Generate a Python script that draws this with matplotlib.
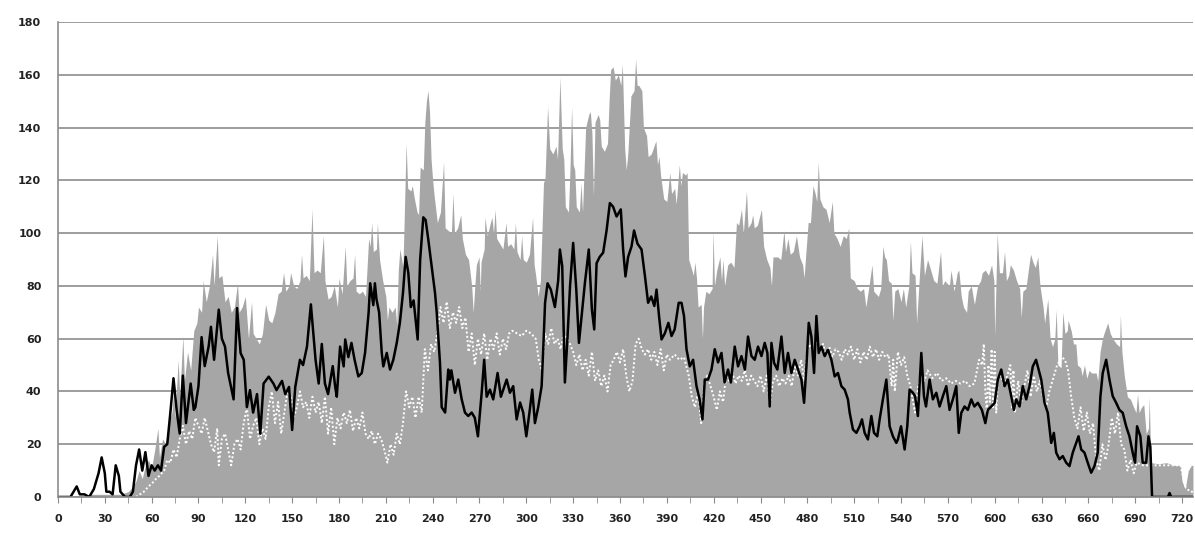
import numpy as np
import matplotlib
matplotlib.use("Agg")
import matplotlib.pyplot as plt

# ---- data (minute, value) ----
gray_t = [0, 10, 20, 30, 40, 45, 48, 50, 52, 54, 56, 58, 60, 62, 64, 65, 67, 69, 71, 73,
          74, 75, 77, 78, 80, 81, 83, 85, 87, 89, 90, 92, 93, 95, 97, 99, 100, 102, 103, 105,
          107, 109, 111, 113, 115, 116, 118, 120, 122, 124, 125, 127, 129, 131, 133, 135, 137, 139, 141, 143,
          144.5, 146, 148, 149, 151, 153, 155, 156, 157, 159, 161, 162.7, 164, 166, 168, 170, 171, 173, 175, 177,
          179, 180, 182, 184, 185, 187, 189, 190, 191, 193, 195, 197, 199, 200, 201, 202, 204, 204.6, 206, 208,
          210, 211, 212, 214, 216, 217, 218, 219, 221, 223, 224, 226, 227, 228, 230, 231, 232, 234, 235, 236,
          237, 238, 239, 240, 241, 243, 245, 247, 248, 250, 252, 253, 254, 256, 258, 259, 261, 263, 265, 266,
          267, 268, 269.7, 270.5, 271, 273, 273.5, 275, 277, 278, 279, 280, 281, 283, 285, 287, 288, 290, 292, 293,
          294, 296, 297, 298, 300, 302, 304, 305, 306, 307.6, 309, 311, 312, 313.6, 315, 317, 319, 320, 321.5, 323,
          324, 325, 327, 328, 329, 330, 331, 332, 334, 335, 336, 338, 340, 341, 342, 343, 344, 346, 347, 348,
          350, 352, 353, 354, 355.6, 357, 359, 360.5, 361.5, 363, 364, 365, 367, 369, 370, 371, 372, 374, 375, 377,
          378, 380, 383, 384, 385, 386, 388, 390, 391.9, 393, 395, 396, 398, 399, 400, 402, 403, 404, 405, 407,
          408, 409, 410, 412, 412.8, 413.5, 415, 417, 419, 419.6, 420.5, 422, 424, 425, 426, 427, 429, 431, 433, 434.6,
          436, 437.8, 439, 441, 442, 444, 445, 446, 448, 450.6, 452, 454, 456, 457, 458, 461, 463, 465, 466, 467.6,
          469, 471, 473, 475, 477, 477.9, 479, 480.5, 482, 483.6, 485, 486, 487, 488, 490, 492, 494, 496, 497, 499,
          501, 503, 505, 506.5, 507.5, 510, 512, 514, 516, 517.5, 519, 521.4, 522.5, 524, 525.5, 527, 528.4, 529.5, 530.6, 532,
          533.8, 534.8, 536, 538, 540, 541.5, 543, 545, 546, 547, 549, 550, 552, 553.4, 555, 557, 559, 561, 563, 565.3,
          566.5, 568, 571, 572, 574, 576, 577, 578.6, 580, 582, 583, 585, 587, 589, 591, 592, 594, 596, 598, 599.5,
          600, 601.6, 603, 605, 606.3, 607.5, 609, 610, 612, 614, 616, 617, 618, 620, 622, 623, 624.5, 626, 627.6, 629,
          631, 632, 634, 635.5, 637, 638.5, 639.4, 640.5, 642.5, 643.6, 645, 646.5, 647, 649, 650.5, 652, 653, 655, 656, 657.5,
          659, 660.5, 662, 665, 666, 667.5, 669, 670, 672.4, 674, 675.6, 678, 680, 680.5, 681.5, 683, 685, 687, 689, 690.5,
          691.5, 692.5, 694, 695.5, 697, 698.5, 699, 700, 705, 710, 715, 719, 720, 722, 724, 726, 727]
gray_v = [0, 0, 1, 1, 1, 2, 4, 6, 10, 7, 12, 14, 11, 18, 26, 15, 22, 20, 28, 32,
          40, 30, 52, 38, 61, 44, 55, 48, 63, 66, 72, 70, 82, 74, 80, 92, 80, 99, 83, 84,
          74, 76, 70, 72, 81, 70, 72, 76, 60, 74, 62, 60, 58, 62, 73, 67, 66, 70, 77, 78,
          85, 78, 80, 85, 80, 79, 82, 92, 83, 84, 82, 109, 85, 86, 85, 99, 82, 75, 76, 80,
          72, 83, 77, 95, 80, 82, 83, 92, 78, 77, 78, 76, 98, 95, 104, 93, 94, 104, 90, 82,
          76, 67, 72, 70, 72, 65, 86, 94, 87, 134, 117, 116, 118, 114, 108, 107, 125, 124, 142, 150,
          154, 146, 128, 120, 114, 104, 108, 127, 102, 101, 100, 115, 100, 102, 107, 98, 92, 90, 80, 70,
          80, 88, 91, 78, 89, 94, 106, 99, 104, 106, 100, 109, 98, 96, 94, 104, 95, 96, 94, 104,
          93, 90, 99, 90, 89, 92, 106, 88, 84, 76, 82, 119, 121, 148, 132, 130, 133, 128, 159, 132,
          128, 110, 108, 125, 148, 126, 124, 110, 108, 119, 108, 140, 145, 146, 138, 114, 142, 145, 143, 133,
          131, 134, 150, 162, 163, 158, 160, 156, 164, 132, 124, 130, 152, 154, 166, 156, 156, 154, 140, 137,
          129, 130, 135, 126, 129, 122, 113, 112, 123, 115, 117, 111, 126, 118, 123, 122, 123, 90, 88, 84,
          89, 83, 72, 73, 60, 72, 78, 77, 79, 101, 80, 86, 91, 82, 90, 80, 88, 89, 87, 104,
          103, 109, 100, 116, 102, 104, 107, 102, 103, 109, 95, 90, 87, 80, 91, 91, 90, 101, 93, 98,
          92, 93, 99, 91, 88, 83, 92, 104, 104, 118, 115, 112, 127, 113, 110, 109, 104, 112, 100, 98,
          95, 99, 98, 102, 83, 82, 79, 78, 79, 72, 78, 88, 78, 77, 76, 79, 95, 91, 90, 82,
          81, 67, 78, 79, 74, 79, 72, 80, 97, 85, 84, 66, 86, 99, 84, 90, 86, 82, 81, 93,
          80, 82, 80, 86, 78, 85, 86, 76, 72, 70, 78, 80, 73, 80, 82, 85, 86, 84, 88, 82,
          61, 100, 85, 85, 93, 82, 84, 88, 86, 82, 79, 68, 78, 79, 88, 92, 89, 87, 91, 80,
          72, 66, 75, 60, 57, 60, 71, 50, 49, 70, 62, 63, 67, 63, 58, 58, 50, 49, 46, 50,
          45, 48, 47, 47, 44, 55, 60, 62, 66, 62, 60, 58, 57, 69, 55, 46, 38, 37, 34, 32,
          39, 32, 34, 35, 24, 26, 38, 13, 12.6, 13, 12, 12, 6, 3, 10, 12, 12]

black_t = [0, 8, 10, 12, 14, 17, 20, 23, 26, 28, 30, 31, 33, 35, 37, 39, 40, 43, 46, 48,
           50, 52, 54, 56, 58, 60, 62, 64, 66, 68, 70, 72, 74, 76, 78, 80, 82, 85, 87, 88,
           90, 92, 94, 96.5, 98, 100, 103, 105, 107, 109, 112.5, 114.7, 117, 119, 121, 123, 125, 127.5, 129.6, 131.7,
           135, 138, 140, 143.5, 145.6, 148, 150, 152, 155, 157, 159.5, 162, 165, 167, 169, 171, 173, 176, 177.6, 178.6,
           180.7, 183, 184, 186, 188, 190, 192.4, 194.6, 196.7, 199, 200, 202, 203, 204, 205.7, 207.4, 208.4, 210.6, 212.7, 214.8,
           217, 219, 221, 222.7, 224.4, 226, 227.8, 230.4, 232, 234, 235.5, 237.2, 239.4, 241.5, 242.6, 244.7, 245.8, 248, 250, 251,
           252, 254.3, 256.4, 258.6, 260.7, 262.8, 265, 267, 269, 271.4, 273, 274.6, 276.7, 278.8, 281.6, 283.7, 287.4, 289.5, 291.6, 293.8,
           296, 298, 300, 302, 303.8, 305.5, 307.6, 309.8, 311, 312, 313.6, 315.7, 318.3, 320.4, 321.5, 323, 324.7, 326.4, 328, 330,
           332, 333.7, 335.4, 337.5, 340, 342, 343.5, 345, 347, 349.2, 351.4, 353.5, 355.6, 357.8, 360.5, 362, 363.5, 365.2, 367.4, 369,
           371.2, 373.8, 376, 378, 380, 382, 383.4, 385, 386.6, 388.7, 391, 393, 395, 397.6, 399.4, 401, 402.6, 404.7, 406.8, 409,
           411, 412.8, 414.3, 416.4, 418.6, 420.7, 422.8, 425, 427, 429.2, 431, 433.5, 435.6, 437.8, 440, 442, 444.2, 446.3, 448.4, 450.6,
           452.7, 454.4, 455.9, 457, 458.7, 460.8, 463.4, 465.5, 467.6, 469.8, 471.9, 474, 476.2, 477.9, 479.4, 480.9, 482.6, 484.3, 485.8, 487.3,
           489, 491.1, 493.2, 495.4, 497.5, 499.6, 501.8, 503.9, 506, 507.1, 509.2, 511.4, 513.5, 515, 516.7, 518.8, 521, 522.7, 524.8, 526.3,
           528.4, 530.6, 532.7, 534.8, 537, 538, 540, 542.3, 544, 545.5, 547.6, 549, 550.8, 553, 554.7, 556, 558.3, 560.4, 562.6, 564.7,
           566.8, 569, 571.1, 573.2, 575.4, 577, 578.6, 580.7, 582.8, 585, 587, 589.2, 591.8, 594, 595.6, 597.8, 600, 602, 604.2, 606.3,
           608.4, 610.6, 612.3, 613.8, 615.9, 618, 620.2, 622.3, 624.4, 626.5, 628.7, 629.8, 631.9, 634, 636.2, 637.9, 639.4, 641.5, 643.6, 645.8,
           647.9, 650, 652.2, 653.7, 655.4, 657.5, 659.6, 661.8, 663.9, 666, 667.7, 669.2, 671.4, 673.5, 675.6, 677.8, 679.9, 682, 684.2, 686.3,
           688.4, 689.9, 691.2, 693.3, 694.8, 697, 698.5, 699.7, 700.8, 711, 712, 713, 727]
black_v = [0, 0, 2, 4, 1, 1, 0, 3, 9, 15, 9, 2, 2, 1, 12, 8, 2, 0, 0, 2,
           12, 18, 10, 17, 8, 12, 10, 12, 10, 19, 20, 32, 45, 33, 24, 46, 28, 43, 33, 34,
           42, 60.6, 49.6, 57, 64.5, 52, 71, 60, 57, 47, 37, 71.6, 54.5, 52, 34, 40.5, 32, 39, 24, 43,
           45.6, 43, 40.5, 44, 39, 41.7, 25.4, 41.7, 52, 50, 57, 73, 52, 43, 58, 43, 39, 49.6, 41.7, 38,
           57, 49.5, 59.7, 53, 58.4, 52, 45.7, 47, 54.6, 70, 81, 72.7, 81, 75, 70, 54.6, 49.5, 54.6, 48.3, 52,
           58.4, 66, 77.4, 91, 85, 72, 74.5, 59.7, 90, 106, 105, 97.6, 87.4, 77.4, 70, 50.8, 34, 32, 48.3, 44.5,
           48, 39.5, 44.5, 37, 32, 30.7, 32, 30, 23, 39.5, 52, 38, 40.7, 37, 47, 38, 44.5, 39.5, 42, 29.4,
           35.8, 32, 23, 32, 40.7, 28, 34, 42, 58.4, 73.6, 81, 78.6, 72, 82, 93.8, 87.4, 43.4, 60.8, 80, 96.3,
           78.6, 58.4, 68.6, 81, 93.8, 71, 63.5, 88.6, 91, 92.6, 101, 111.4, 110, 106.3, 109, 93.8, 83.6, 91, 95, 101,
           96, 93.8, 83.6, 73.6, 76, 72.4, 78.6, 68.6, 59.7, 62, 66, 61, 63.5, 73.6, 73.6, 68.6, 56, 49.5, 52, 42,
           37, 29.4, 44.5, 44.5, 48.3, 56, 51, 54.6, 43.4, 48.3, 43.4, 57, 49.5, 53.4, 48.3, 60.8, 53.4, 52, 57, 53.4,
           58.4, 54.6, 34.3, 58.4, 50.8, 48.3, 60.8, 47, 54.6, 47, 52, 48.3, 44.5, 35.7, 49.5, 66, 60.8, 47, 68.6, 54.6,
           57, 53.4, 55.8, 52, 45.7, 47, 42, 40.7, 37, 32, 25.6, 24.3, 26.8, 29.4, 24.3, 21.8, 30.7, 24.3, 23, 29.4,
           37, 44.5, 26.8, 23, 20.5, 21.8, 26.8, 18, 26.8, 40.7, 39.5, 38.2, 30.7, 54.6, 38.2, 34.3, 44.5, 37, 39.5, 34.3,
           38.2, 42, 33, 37, 42, 24.3, 31.9, 34.3, 33, 37, 34.3, 35.7, 33, 28, 33, 34.3, 35.7, 44.5, 48.3, 42,
           44.5, 38.2, 33, 37, 34.3, 42, 37, 42, 49.5, 52, 47, 44.5, 35.7, 31.9, 20.5, 24.3, 16.8, 14.3, 15.5, 13,
           11.7, 16.8, 20.5, 23, 18, 16.8, 13, 9.2, 11.7, 16.8, 38, 47, 52, 44.5, 38.2, 35.7, 33, 31.9, 26.8, 23,
           16.8, 13, 26.8, 23, 13, 13, 23, 19, 0, 0, 1.5, 0, 0]

white_t = [50, 55, 58, 60, 63, 65, 68, 70, 72, 74, 76, 78, 80, 82, 84, 86, 88, 90, 92, 94,
           96, 98, 100, 102, 103, 105, 107, 109, 111, 113, 115, 117, 119, 121, 123, 125, 127, 129, 131, 133,
           135, 137, 139, 141, 143, 145, 147, 149, 151, 153, 155, 157, 159, 161, 163, 165, 167, 169, 171, 173,
           175, 177, 179, 181, 183, 185, 187, 189, 191, 193, 195, 197, 199, 201, 203, 205, 207, 209, 211, 213,
           215, 217, 219, 221, 223, 225, 227, 229, 231, 233, 235, 237, 239, 241, 243, 245, 247, 249, 251, 253,
           255, 257, 259, 261, 263, 265, 267, 269, 271, 273, 275, 277, 279, 281, 283, 285, 287, 289, 291, 294,
           297, 300, 303, 306, 308, 310, 312, 314, 316, 318, 320, 322, 324, 326, 328, 330, 332, 334, 336, 338,
           340, 342, 344, 346, 348, 350, 352, 354, 356, 358, 360, 362, 364, 366, 368, 370, 372, 374, 376, 378,
           380, 382, 384, 386, 388, 390, 392, 395, 398, 401, 404, 406, 408, 410, 412, 414, 416, 418, 420, 422,
           424, 426, 428, 430, 432, 434, 436, 438, 440, 442, 444, 446, 448, 450, 452, 454, 456, 458, 460, 462,
           464, 466, 468, 470, 472, 474, 476, 478, 480, 482, 484, 486, 488, 490, 492, 494, 496, 498, 500, 502,
           504, 506, 508, 510, 512, 514, 516, 518, 520, 522, 524, 526, 528, 530, 532, 534, 535, 536, 538, 540,
           542, 544, 546, 548, 549, 551, 553, 555, 557, 560, 563, 566, 569, 572, 575, 578, 581, 584, 587, 590,
           592, 593, 594, 595, 596, 597, 598, 599, 600, 601, 602, 604, 606, 608, 610, 611, 612, 613, 615, 617,
           619, 621, 623, 625, 627, 629, 631, 633, 635, 637, 640, 643, 645, 647, 649, 651, 653, 655, 657, 659,
           661, 663, 665, 667, 669, 671, 673, 675, 677, 679, 681, 683, 685, 687, 689, 691, 695, 700, 705, 710,
           715, 719, 722, 725, 727]
white_v = [0, 2, 4, 5, 7, 8, 10, 14, 13, 18, 15, 22, 27, 20, 25, 22, 30, 27, 24, 30,
           25, 20, 17, 26, 12, 22, 24, 18, 12, 20, 22, 18, 28, 34, 22, 27, 30, 20, 26, 22,
           34, 40, 28, 36, 24, 32, 40, 38, 30, 34, 40, 34, 36, 30, 38, 32, 36, 28, 38, 24,
           34, 20, 30, 26, 32, 28, 33, 25, 30, 26, 32, 24, 22, 25, 20, 24, 22, 18, 13, 20,
           16, 24, 20, 28, 40, 34, 38, 30, 38, 32, 56, 48, 58, 55, 62, 72, 66, 74, 64, 70,
           66, 72, 64, 68, 55, 62, 50, 60, 54, 62, 52, 60, 56, 62, 54, 60, 56, 62, 63, 62,
           61, 63, 62, 60, 52, 48, 62, 58, 64, 58, 60, 56, 62, 60, 58, 55, 50, 54, 48, 52,
           46, 55, 44, 48, 42, 46, 40, 50, 52, 55, 51, 56, 46, 40, 44, 58, 60, 56, 54, 56,
           52, 55, 50, 56, 48, 54, 52, 54, 52, 53, 46, 38, 34, 40, 28, 44, 46, 42, 38, 33,
           40, 36, 46, 44, 47, 43, 46, 44, 48, 42, 46, 44, 42, 46, 40, 46, 35, 44, 46, 42,
           45, 43, 46, 42, 50, 46, 52, 44, 56, 58, 54, 60, 55, 58, 54, 57, 53, 56, 55, 52,
           56, 54, 57, 52, 56, 51, 55, 52, 57, 53, 56, 52, 55, 53, 54, 42, 52, 40, 55, 50,
           53, 46, 42, 35, 32, 42, 46, 44, 48, 45, 47, 44, 45, 43, 44, 43, 44, 42, 43, 52,
           50, 58, 40, 32, 50, 36, 56, 34, 55, 32, 45, 46, 42, 46, 50, 34, 48, 32, 44, 36,
           42, 48, 38, 46, 40, 44, 38, 34, 40, 44, 50, 53, 52, 48, 38, 30, 26, 34, 25, 32,
           24, 28, 14, 10, 20, 14, 20, 30, 24, 32, 20, 18, 10, 14, 9, 13, 12, 12, 12, 12,
           12, 12, 4, 2, 2]

x_ticks = list(range(0, 721, 30))
y_ticks = list(range(0, 181, 20))


def main():
    fig = plt.figure(figsize=(11.95, 5.36), dpi=100)
    ax = fig.add_axes([0.0485, 0.0728, 0.9498, 0.886])

    ax.fill_between(gray_t, gray_v, 0, color="#a6a6a6", linewidth=0, zorder=2)
    ax.plot(black_t, black_v, color="black", linewidth=1.8, zorder=4)
    ax.plot(white_t, white_v, color="white", linewidth=1.4,
            linestyle=(0, (1, 1.2)), zorder=3)

    ax.set_xlim(0, 727)
    ax.set_ylim(0, 180)

    ax.set_yticks(y_ticks)
    ax.set_xticks(x_ticks)
    ax.set_xticks(list(range(15, 727, 30)), minor=True)
    ax.set_xticklabels([str(v) for v in x_ticks])
    ax.yaxis.grid(True, color="#8c8c8c", linewidth=1.2, zorder=1)
    ax.set_axisbelow(True)

    for side in ["top", "right"]:
        ax.spines[side].set_visible(False)
    for side in ["left", "bottom"]:
        ax.spines[side].set_color("#8c8c8c")
        ax.spines[side].set_linewidth(1.2)
        ax.spines[side].set_zorder(5)

    ax.tick_params(axis="x", which="both", direction="out", length=4,
                   color="#8c8c8c", pad=8)
    ax.tick_params(axis="y", length=0, pad=12)
    for lab in ax.get_xticklabels() + ax.get_yticklabels():
        lab.set_fontsize(8)
        lab.set_fontweight("bold")
        lab.set_color("#222222")

    fig.savefig("out.png", dpi=100)


if __name__ == "__main__":
    main()
